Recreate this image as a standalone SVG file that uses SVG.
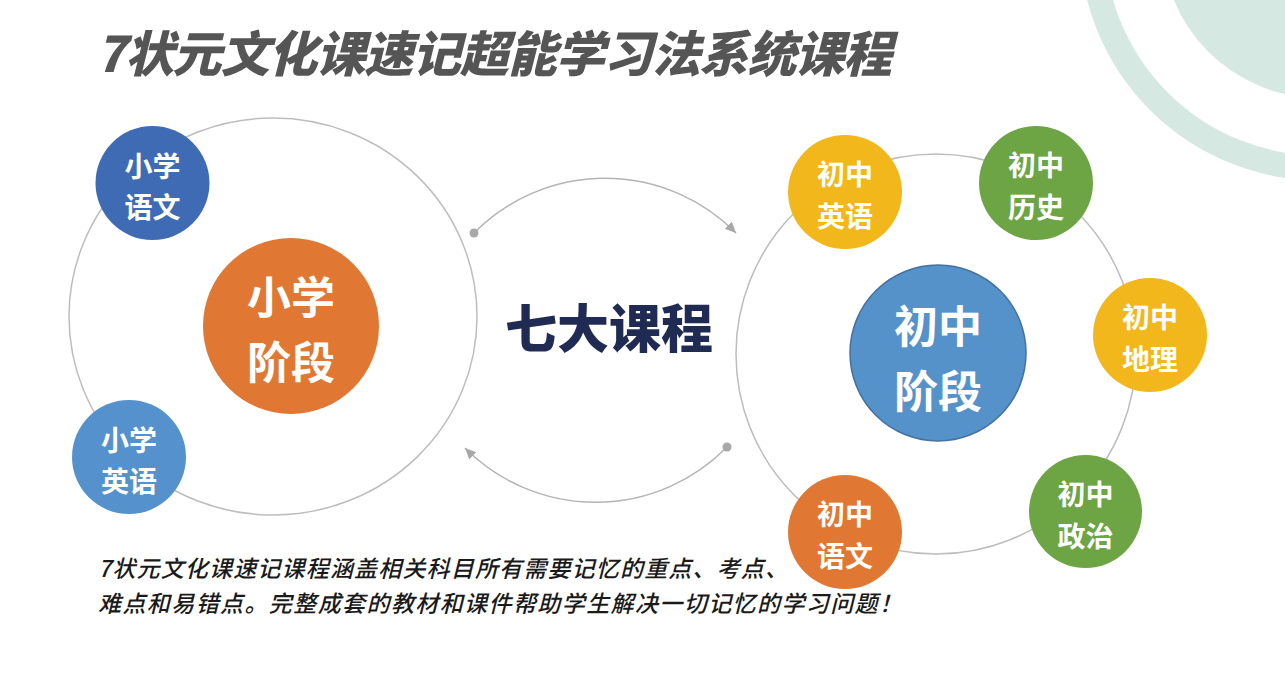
<svg xmlns="http://www.w3.org/2000/svg" width="1285" height="690" viewBox="0 0 1285 690">
  <style>
    .ring { fill: none; stroke: #bdbdbd; stroke-width: 1.5; }
    .lbl { font-family: "Noto Sans CJK SC", "Noto Sans", sans-serif; font-weight: bold; fill: #ffffff; text-anchor: middle; }
    .sm { font-size: 28px; }
    .bg { font-size: 44px; }
    .conn { fill: none; stroke: #b4b4b4; stroke-width: 1.5; }
    .blue1 { fill: #3e6bb3; }
    .blue2 { fill: #5592cd; }
    .orange { fill: #e07833; }
    .yellow { fill: #f2b81b; }
    .green { fill: #6da544; }
  </style>
  <defs>
    <marker id="arrow" markerUnits="userSpaceOnUse" markerWidth="14" markerHeight="12" refX="11" refY="5" orient="auto">
      <path d="M0,0 L11,5 L0,10 z" fill="#a8a8a8"/>
    </marker>
  </defs>
  <rect width="1285" height="690" fill="#ffffff"/>

  <!-- decoration top right -->
  <g id="decor">
    <circle cx="1320" cy="-60" r="228" fill="none" stroke="#d5e8e1" stroke-width="25"/>
    <circle cx="1320" cy="-60" r="158" fill="#d5e8e1"/>
  </g>

  <!-- title -->
  <g id="title">
    <text x="96" y="72" font-family="Noto Sans CJK SC, sans-serif" font-size="49" font-weight="900" font-style="italic" fill="#555555" textLength="796" lengthAdjust="spacing">7状元文化课速记超能学习法系统课程</text>
  </g>

  <!-- big rings -->
  <g id="ring-left"><ellipse class="ring" cx="273" cy="316.5" rx="204" ry="198.5"/></g>
  <g id="ring-right"><circle class="ring" cx="936" cy="354" r="200"/></g>

  <!-- connectors -->
  <g id="connectors">
    <path class="conn" d="M474,233 A184,184 0 0 1 736,233" marker-end="url(#arrow)"/>
    <circle cx="474" cy="233" r="4.5" fill="#a8a8a8"/>
    <path class="conn" d="M727,447 A184,184 0 0 1 465,448" marker-end="url(#arrow)"/>
    <circle cx="727" cy="447" r="4.5" fill="#a8a8a8"/>
  </g>

  <!-- center label -->
  <g id="center">
    <text x="609" y="348" font-family="Noto Sans CJK SC, sans-serif" font-size="52" font-weight="900" fill="#1f2b52" text-anchor="middle">七大课程</text>
  </g>

  <!-- left nodes -->
  <g id="xx-yuwen">
    <circle class="blue1" cx="152.5" cy="183" r="57"/>
    <text class="lbl sm" x="152.5" y="177">小学</text>
    <text class="lbl sm" x="152.5" y="218">语文</text>
  </g>
  <g id="xx-jieduan">
    <circle class="orange" cx="291" cy="326" r="88"/>
    <text class="lbl bg" x="291" y="314">小学</text>
    <text class="lbl bg" x="291" y="379">阶段</text>
  </g>
  <g id="xx-yingyu">
    <circle class="blue2" cx="129" cy="457" r="57"/>
    <text class="lbl sm" x="129" y="451">小学</text>
    <text class="lbl sm" x="129" y="492">英语</text>
  </g>

  <!-- right nodes -->
  <g id="cz-jieduan">
    <circle cx="938" cy="353" r="88" fill="#5592ca" stroke="#44719f" stroke-width="1.5"/>
    <text class="lbl bg" x="938" y="343">初中</text>
    <text class="lbl bg" x="938" y="408">阶段</text>
  </g>
  <g id="cz-yingyu">
    <circle class="yellow" cx="845" cy="192" r="57"/>
    <text class="lbl sm" x="845" y="185">初中</text>
    <text class="lbl sm" x="845" y="227">英语</text>
  </g>
  <g id="cz-lishi">
    <circle class="green" cx="1036" cy="183" r="57"/>
    <text class="lbl sm" x="1036" y="176">初中</text>
    <text class="lbl sm" x="1036" y="218">历史</text>
  </g>
  <g id="cz-dili">
    <circle class="yellow" cx="1150" cy="335" r="57"/>
    <text class="lbl sm" x="1150" y="328">初中</text>
    <text class="lbl sm" x="1150" y="370">地理</text>
  </g>
  <g id="cz-zhengzhi">
    <circle class="green" cx="1085.5" cy="511.5" r="56.5"/>
    <text class="lbl sm" x="1085.5" y="505">初中</text>
    <text class="lbl sm" x="1085.5" y="547">政治</text>
  </g>
  <g id="cz-yuwen">
    <circle class="orange" cx="845" cy="532" r="57"/>
    <text class="lbl sm" x="845" y="525">初中</text>
    <text class="lbl sm" x="845" y="567">语文</text>
  </g>

  <!-- description -->
  <g id="desc" font-family="Noto Sans CJK SC, sans-serif" font-size="23" font-weight="500" font-style="italic" fill="#1a1a1a">
    <text x="98" y="577" textLength="690" lengthAdjust="spacing">7状元文化课速记课程涵盖相关科目所有需要记忆的重点、考点、</text>
    <text x="98" y="612" textLength="804" lengthAdjust="spacing">难点和易错点。完整成套的教材和课件帮助学生解决一切记忆的学习问题！</text>
  </g>
</svg>
